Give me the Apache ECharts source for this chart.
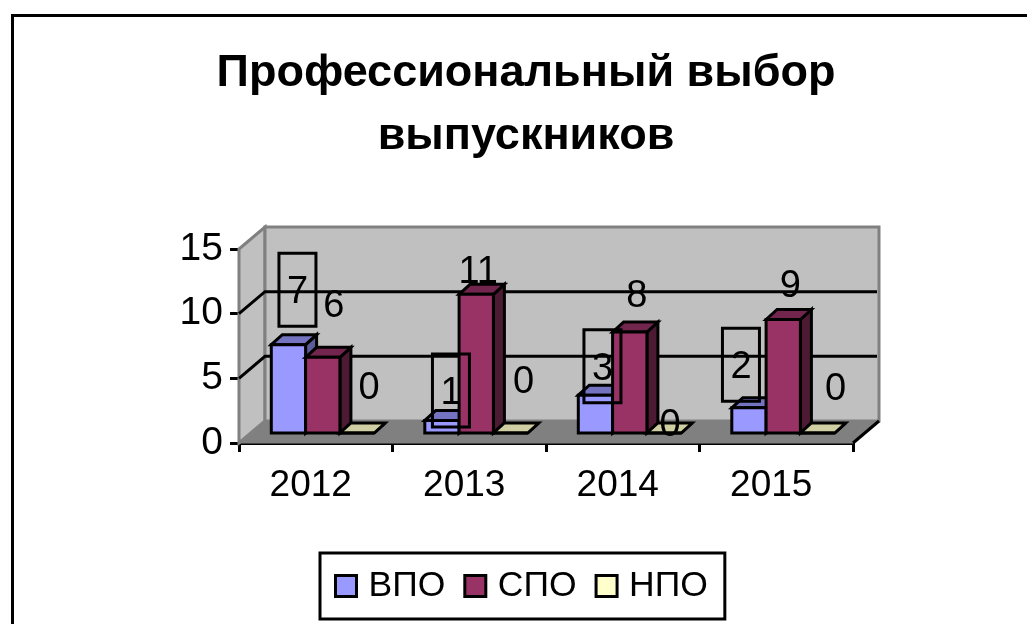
<!DOCTYPE html>
<html>
<head>
<meta charset="utf-8">
<style>html,body{margin:0;padding:0;background:#fff}#main{width:1027px;height:624px}</style>
<script src="https://cdn.jsdelivr.net/npm/echarts@6/dist/echarts.min.js"></script>
</head>
<body>
<div id="main"></div>
<script>
var years = ['2012', '2013', '2014', '2015'];
var vpo = [7, 1, 3, 2];
var spo = [6, 11, 8, 9];
var npo = [0, 0, 0, 0];
var yTicks = [5, 10];

// the labels in the picture were dragged by hand, so every one has its own shift from the bar top
var vpoShift = [[9, -55], [9, -30], [7, -29], [-8, -43]];
var spoShift = [[11, -54], [2, -25], [7, -39], [7, -36]];
var npoShift = [[12, -47], [13, -53], [6, -10], [18, -46]];

var DEPTH = [26, -22];    // wall behind the axis plane
var FRONT = [7, -10];     // front face of a bar from the axis plane
var BAR_D = [11, -10];    // depth of a bar
var BAR_W = 34.3;
var BAR_SCALE = 0.975;    // bars stand further back so they come out a bit shorter

function toSeries(values) {
    return values.map(function (v, i) { return [i, v]; });
}

function poly(points, fill, stroke, width) {
    return {
        type: 'polygon',
        shape: { points: points },
        style: { fill: fill, stroke: stroke, lineWidth: width, lineJoin: 'miter' }
    };
}

function renderWalls(params, api) {
    var c = params.coordSys;
    var x0 = c.x, x1 = c.x + c.width, y0 = c.y + c.height, y1 = c.y;
    var dx = DEPTH[0], dy = DEPTH[1];
    var kids = [
        poly([[x0, y0], [x0 + dx, y0 + dy], [x0 + dx, y1 + dy], [x0, y1]], '#c0c0c0', '#808080', 3),
        poly([[x0 + dx, y0 + dy], [x1 + dx, y0 + dy], [x1 + dx, y1 + dy], [x0 + dx, y1 + dy]], '#c0c0c0', '#808080', 3),
        poly([[x0, y0], [x0 + dx, y0 + dy], [x1 + dx, y0 + dy], [x1, y0]], '#808080', '#808080', 1)
    ];
    yTicks.forEach(function (t) {
        var y = api.coord([0, t])[1];
        kids.push({
            type: 'polyline',
            shape: { points: [[x0, y], [x0 + dx, y + dy], [x1 + dx - 2, y + dy]] },
            style: { fill: null, stroke: '#000', lineWidth: 3 }
        });
    });
    kids.push({
        type: 'line',
        shape: { x1: x1, y1: y0, x2: x1 + dx, y2: y0 + dy },
        style: { stroke: '#000', lineWidth: 3 }
    });
    return { type: 'group', children: kids };
}

function barRect(api, serieIndex) {
    var cat = api.value(0), v = api.value(1);
    var base = api.coord([cat, 0]);
    var top = api.coord([cat, v]);
    var left = base[0] + FRONT[0] - BAR_W * 1.5 + serieIndex * BAR_W;
    var bottom = base[1] + FRONT[1];
    return { left: left, right: left + BAR_W, bottom: bottom, top: bottom - (base[1] - top[1]) * BAR_SCALE };
}

function makeBar(serieIndex, face, lid, side) {
    return function (params, api) {
        var r = barRect(api, serieIndex);
        var ddx = BAR_D[0], ddy = BAR_D[1];
        return {
            type: 'group',
            children: [
                poly([[r.right, r.bottom], [r.right + ddx, r.bottom + ddy], [r.right + ddx, r.top + ddy], [r.right, r.top]], side, '#000', 3),
                poly([[r.left, r.top], [r.left + ddx, r.top + ddy], [r.right + ddx, r.top + ddy], [r.right, r.top]], lid, '#000', 3),
                poly([[r.left, r.top], [r.right, r.top], [r.right, r.bottom], [r.left, r.bottom]], face, '#000', 3)
            ]
        };
    };
}

function makeLabel(serieIndex, shift, boxed) {
    return function (params, api) {
        var r = barRect(api, serieIndex);
        var s = shift[api.value(0)];
        var cx = (r.left + r.right) / 2 + s[0];
        var cy = r.top + s[1];
        var kids = [{
            type: 'text',
            x: cx, y: cy + 3,
            style: {
                text: String(api.value(1)), fill: '#000', align: 'center', verticalAlign: 'middle',
                font: '38px "Liberation Sans", Arial, sans-serif'
            }
        }];
        if (boxed) {
            kids.unshift({
                type: 'rect',
                shape: { x: cx - 18.5, y: cy - 36.5, width: 37, height: 73 },
                style: { fill: null, stroke: '#000', lineWidth: 3 }
            });
        }
        return { type: 'group', children: kids };
    };
}

function barSeries(name, values, serieIndex, face, lid, side) {
    return {
        name: name, type: 'custom', data: toSeries(values), z: 3, clip: false,
        itemStyle: { color: face },
        renderItem: makeBar(serieIndex, face, lid, side)
    };
}

function labelSeries(name, values, serieIndex, shift, boxed) {
    return {
        name: name, type: 'custom', data: toSeries(values), z: 6, clip: false,
        itemStyle: { color: 'transparent' },
        renderItem: makeLabel(serieIndex, shift, boxed)
    };
}

var labelFont = '"Liberation Sans", Arial, sans-serif';
var myChart = echarts.init(document.getElementById('main'), null, { renderer: 'canvas' });
myChart.setOption({
    animation: false,
    backgroundColor: '#fff',
    title: {
        text: 'Профессиональный выбор\nвыпускников',
        left: 521, top: 37, textAlign: 'center',
        textStyle: { fontFamily: labelFont, fontWeight: 'bold', fontSize: 45, lineHeight: 63, color: '#000' }
    },
    graphic: [{
        type: 'rect',
        shape: { x: 12.5, y: 15.5, width: 1030, height: 640 },
        style: { fill: null, stroke: '#000', lineWidth: 3 },
        silent: true
    }],
    legend: {
        data: ['ВПО', 'СПО', 'НПО'],
        left: 320, top: 553,
        padding: [15, 17, 15, 14],
        borderColor: '#000', borderWidth: 3,
        itemWidth: 21, itemHeight: 21, itemGap: 18,
        icon: 'rect',
        itemStyle: { borderColor: '#000', borderWidth: 3 },
        textStyle: { fontFamily: labelFont, fontSize: 35.5, color: '#000', padding: [0, 0, 0, 7] }
    },
    grid: { left: 239, top: 249, width: 614, height: 194 },
    xAxis: {
        type: 'category',
        data: years,
        axisLine: { onZero: false, lineStyle: { color: '#000', width: 3 } },
        axisTick: { show: true, length: 9, alignWithLabel: false, lineStyle: { color: '#000', width: 3 } },
        axisLabel: { fontFamily: labelFont, fontSize: 37, color: '#000', margin: 24, padding: [0, 10, 0, 0] }
    },
    yAxis: {
        type: 'value',
        min: 0, max: 15, interval: 5,
        splitLine: { show: false },
        axisLine: { show: true, lineStyle: { color: '#000', width: 3 } },
        axisTick: { show: true, length: 9, lineStyle: { color: '#000', width: 3 } },
        axisLabel: { fontFamily: labelFont, fontSize: 39, color: '#000', margin: 16, padding: [10, 0, 0, 0] }
    },
    series: [
        { type: 'custom', data: [[0, 0]], z: 1, clip: false, silent: true, renderItem: renderWalls },
        barSeries('ВПО', vpo, 0, '#9999ff', '#7373bf', '#5c5c99'),
        barSeries('СПО', spo, 1, '#993366', '#73264d', '#4d1a33'),
        barSeries('НПО', npo, 2, '#ffffcc', '#cfcfa3', '#999980'),
        labelSeries('ВПО', vpo, 0, vpoShift, true),
        labelSeries('СПО', spo, 1, spoShift, false),
        labelSeries('НПО', npo, 2, npoShift, false)
    ]
});
</script>
</body>
</html>
